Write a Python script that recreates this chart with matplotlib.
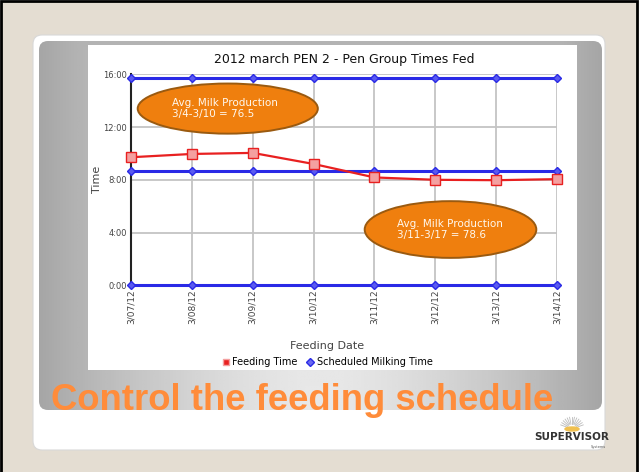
import matplotlib
matplotlib.use('Agg')
import matplotlib.pyplot as plt
import matplotlib.patches as mpatches
from matplotlib.patches import FancyBboxPatch, Ellipse
from matplotlib.lines import Line2D
import numpy as np

# ── datos ─────────────────────────────────────────────────────────────
fechas = ["3/07/12", "3/08/12", "3/09/12", "3/10/12",
          "3/11/12", "3/12/12", "3/13/12", "3/14/12"]
feeding_time = [9.71, 9.96, 10.04, 9.20, 8.18, 8.00, 7.97, 8.05]   # horas
milking_am = [0.0, 0.0, 0.0, 0.0, 0.0, 0.0, 0.0, 0.0]
milking_mid = [8.67, 8.67, 8.67, 8.67, 8.67, 8.67, 8.67, 8.67]
milking_pm = [15.7, 15.7, 15.7, 15.7, 15.7, 15.7, 15.7, 15.7]
y_ticks = [0, 4, 8, 12, 16]
notas = ["Avg. Milk Production\n3/4-3/10 = 76.5",
         "Avg. Milk Production\n3/11-3/17 = 78.6"]

W, H = 639, 472
fig = plt.figure(figsize=(W / 100, H / 100), dpi=100)

# ── fondo de la diapositiva (coordenadas en píxeles) ──────────────────
bg = fig.add_axes([0, 0, 1, 1])
bg.axis('off')
bg.add_patch(mpatches.Rectangle((1, 1), W - 3.5, H + 5, facecolor='#e4ddd2',
                                edgecolor='black', linewidth=2.0, zorder=0.5))
bg.add_patch(FancyBboxPatch((33, 35), 572, 415, boxstyle="round,pad=0,rounding_size=9",
                            facecolor='white', edgecolor='#d8d8d8', linewidth=0.8, zorder=0.8))
gris = FancyBboxPatch((39, 41), 563, 369, boxstyle="round,pad=0,rounding_size=9",
                      facecolor='none', edgecolor='none')
bg.add_patch(gris)
gx = np.linspace(0, 1, 200)
gy = np.linspace(0, 1, 100)
GX, GY = np.meshgrid(gx, gy)
borde = (np.abs(GX - 0.5) * 2) ** 1.5
arriba = 0.8 * (1 - GY) ** 1.5
grad = 0.91 - 0.26 * np.maximum(borde, arriba)
im = bg.imshow(grad, extent=(39, 602, 410, 41), cmap='gray', vmin=0, vmax=1,
               aspect='auto', interpolation='bilinear', zorder=1)
im.set_clip_path(gris)
bg.add_patch(mpatches.Rectangle((88, 45), 489, 325, facecolor='white', edgecolor='none',
                                zorder=2))
bg.set_xlim(0, W)
bg.set_ylim(H, 0)

bg.text(51, 400, "Control the feeding schedule", fontsize=26.3, fontweight='bold',
        color='#ff8c3a', family='Liberation Sans', va='center', ha='left', zorder=3)

# logo
bg.text(572, 437, "SUPERVISOR", fontsize=7.5, fontweight='bold', color='#333333',
        family='Liberation Sans Narrow', ha='center', va='center', zorder=3)
bg.text(598, 447, "Systems", fontsize=2.5, color='#555555', ha='center', va='center', zorder=3)
for ang in np.linspace(20, 160, 13):
    a = np.radians(ang)
    bg.plot([572 + 5 * np.cos(a), 572 + 12 * np.cos(a)],
            [429 - 5 * np.sin(a), 429 - 12 * np.sin(a)], color='#bbbbbb', lw=0.6, zorder=3)
bg.add_patch(mpatches.Ellipse((572, 429), 14, 4, color='#f0c050', zorder=3))

# ── gráfico ───────────────────────────────────────────────────────────
left, right = 131 / W, 557 / W
bottom, top = 1 - 285.3 / H, 1 - 74.3 / H
ax = fig.add_axes([left, bottom, right - left, top - bottom])
ax.set_facecolor('white')
x = np.arange(len(fechas))

ax.grid(True, color='#c4c4c4', linewidth=1.3)
ax.set_axisbelow(True)
for s in ['top', 'right', 'bottom']:
    ax.spines[s].set_visible(False)
ax.spines['left'].set_color('#222222')
ax.spines['left'].set_linewidth(1.5)

azul = '#2a2ae6'
for serie in (milking_am, milking_mid, milking_pm):
    ax.plot(x, serie, color=azul, linewidth=2.2, marker='D', markersize=4,
            markerfacecolor='#5a5af0', markeredgecolor=azul, clip_on=False, zorder=3)
ax.plot(x, feeding_time, color='#e82020', linewidth=1.6, marker='s', markersize=6.5,
        markerfacecolor='#f4a0a0', markeredgecolor='#e82020', clip_on=False, zorder=4)

ax.set_xlim(0, len(fechas) - 1)
ax.set_ylim(0, 16)
ax.set_xticks(x)
ax.set_xticklabels(fechas, rotation=90, fontsize=6.5, color='#444444')
ax.set_yticks(y_ticks)
ax.set_yticklabels([f"{t}:00" for t in y_ticks], fontsize=6, color='#444444')
ax.tick_params(length=0, pad=3)
ax.set_ylabel("Time", fontsize=8, color='#444444', labelpad=1)
ax.set_xlabel("Feeding Date", fontsize=8, color='#444444')
ax.xaxis.set_label_coords(0.46, -0.265)
ax.set_title("2012 march PEN 2 - Pen Group Times Fed", fontsize=9, color='#111111', pad=8)

handles = [Line2D([], [], linestyle='none', marker='s', markersize=5,
                  markerfacecolor='#e82020', markeredgecolor='#f4a0a0'),
           Line2D([], [], linestyle='none', marker='D', markersize=4,
                  markerfacecolor='#6a6af0', markeredgecolor=azul)]
ax.legend(handles, ["Feeding Time", "Scheduled Milking Time"], loc='center',
          bbox_to_anchor=(0.46, -0.365), ncol=2, frameon=False, fontsize=7,
          handletextpad=0.2, columnspacing=0.8, handlelength=1,
          borderpad=0, borderaxespad=0)

# ── elipses con la producción ─────────────────────────────────────────
for (cx, cy, w, h), nota in zip([(1.59, 13.4, 2.96, 3.8), (5.25, 4.23, 2.82, 4.3)], notas):
    ax.add_patch(Ellipse((cx, cy), w, h, facecolor='#ef7f0e', edgecolor='#9a5a10',
                         linewidth=1.4, zorder=6, clip_on=False))
    ax.text(cx - w * 0.31, cy, nota, fontsize=7.5, color='#fff8ee', va='center',
            ha='left', zorder=7, linespacing=1.15)

fig.savefig("out.png", dpi=100)
